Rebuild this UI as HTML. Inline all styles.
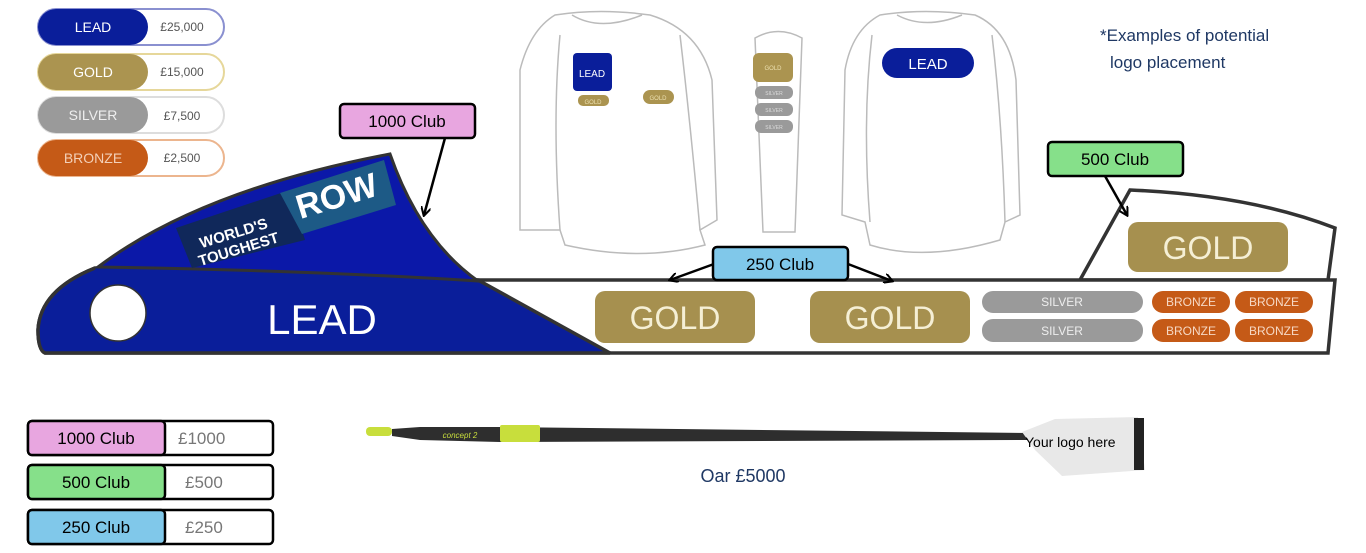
<!DOCTYPE html>
<html><head><meta charset="utf-8"><style>
html,body{margin:0;padding:0;background:#fff;}
svg{display:block;font-family:"Liberation Sans",sans-serif;}
</style></head><body>
<svg width="1366" height="553" viewBox="0 0 1366 553" xmlns="http://www.w3.org/2000/svg">
<defs>
<marker id="ah" markerWidth="10" markerHeight="10" refX="8" refY="5" orient="auto" markerUnits="userSpaceOnUse">
<path d="M0,0 L9,5 L0,10" fill="none" stroke="#000" stroke-width="2"/></marker>
</defs>
<!-- top-left legend -->
<g font-size="14">
<rect x="38" y="9" width="186" height="36" rx="18" fill="#fff" stroke="#8a90d0" stroke-width="2"/>
<rect x="38" y="9" width="110" height="36" rx="18" fill="#0a1e9a"/>
<text x="93" y="32" fill="#fff" text-anchor="middle">LEAD</text>
<text x="182" y="31" fill="#555" font-size="12" text-anchor="middle">£25,000</text>
<rect x="38" y="54" width="186" height="36" rx="18" fill="#fff" stroke="#e6d79a" stroke-width="2"/>
<rect x="38" y="54" width="110" height="36" rx="18" fill="#ab9450"/>
<text x="93" y="77" fill="#fff" text-anchor="middle">GOLD</text>
<text x="182" y="76" fill="#555" font-size="12" text-anchor="middle">£15,000</text>
<rect x="38" y="97" width="186" height="36" rx="18" fill="#fff" stroke="#ddd" stroke-width="2"/>
<rect x="38" y="97" width="110" height="36" rx="18" fill="#9a9a9a"/>
<text x="93" y="120" fill="#eee" text-anchor="middle">SILVER</text>
<text x="182" y="120" fill="#555" font-size="12" text-anchor="middle">£7,500</text>
<rect x="38" y="140" width="186" height="36" rx="18" fill="#fff" stroke="#ecb58e" stroke-width="2"/>
<rect x="38" y="140" width="110" height="36" rx="18" fill="#c55a17"/>
<text x="93" y="163" fill="#f3d0b8" text-anchor="middle">BRONZE</text>
<text x="182" y="162" fill="#555" font-size="12" text-anchor="middle">£2,500</text>
</g>
<!-- shirts -->
<g fill="#fff" stroke="#bbb" stroke-width="1.5">
<path d="M555,15 Q600,8 650,15 Q700,30 712,80 L717,220 L700,230 L705,245 Q640,262 565,245 L560,230 L520,230 L520,70 Q530,30 555,15 Z"/>
<path d="M572,15 Q600,32 642,15" fill="none"/>
<path d="M560,35 Q552,120 560,230" fill="none"/>
<path d="M680,35 Q690,120 700,230" fill="none"/>
<path d="M755,38 Q778,25 802,38 L795,232 L763,232 Z"/>
<path d="M880,15 Q925,8 975,15 Q1010,30 1016,80 L1020,215 L1005,222 L1000,240 Q925,262 870,245 L865,222 L842,215 L845,70 Q852,30 880,15 Z"/>
<path d="M897,15 Q925,30 962,15" fill="none"/>
<path d="M872,35 Q862,120 870,222" fill="none"/>
<path d="M992,35 Q1002,120 1005,222" fill="none"/>
</g>
<rect x="573" y="53" width="39" height="38" rx="4" fill="#0a1e9a"/>
<text x="592" y="77" fill="#fff" font-size="10" text-anchor="middle">LEAD</text>
<rect x="578" y="95" width="31" height="11" rx="5" fill="#ab9450"/>
<text x="593" y="104" fill="#ece0b0" font-size="6" text-anchor="middle">GOLD</text>
<rect x="643" y="90" width="31" height="14" rx="7" fill="#ab9450"/>
<text x="658" y="100" fill="#ece0b0" font-size="6" text-anchor="middle">GOLD</text>
<rect x="753" y="53" width="40" height="29" rx="6" fill="#ab9450"/>
<text x="773" y="70" fill="#ece0b0" font-size="6" text-anchor="middle">GOLD</text>
<g fill="#9a9a9a"><rect x="755" y="86" width="38" height="13" rx="6"/><rect x="755" y="103" width="38" height="13" rx="6"/><rect x="755" y="120" width="38" height="13" rx="6"/></g>
<g fill="#ddd" font-size="5" text-anchor="middle"><text x="774" y="95">SILVER</text><text x="774" y="112">SILVER</text><text x="774" y="129">SILVER</text></g>
<rect x="882" y="48" width="92" height="30" rx="15" fill="#0a1e9a"/>
<text x="928" y="69" fill="#fff" font-size="15" text-anchor="middle">LEAD</text>
<text x="1100" y="41" fill="#1f3864" font-size="17">*Examples of potential</text>
<text x="1110" y="68" fill="#1f3864" font-size="17">logo placement</text>
<!-- boat hull -->
<path d="M1080,280 L1130,190 Q1250,195 1335,228 L1328,280 Z" fill="#fff" stroke="#333" stroke-width="3.5"/>
<path d="M95,268 Q40,290 38,330 Q38,350 45,353 L1328,353 L1335,280 L480,280 Q300,270 95,268 Z" fill="#fff" stroke="#333" stroke-width="3.5"/>
<path d="M95,268 Q40,290 38,330 Q38,350 45,353 L610,353 L478,280 Q300,270 95,268 Z" fill="#0a1e9a"/>
<path d="M95,268 Q40,290 38,330 Q38,350 45,353 L610,353 L478,280" fill="none" stroke="#333" stroke-width="3.5"/>
<path d="M98,267 Q200,190 390,154 Q420,240 478,281 Q300,270 98,267 Z" fill="#0b18a8" stroke="#333" stroke-width="3"/>
<polygon points="176,228 290,190 305,240 192,268" fill="#10285a"/>
<polygon points="280,193 384,160 396,205 302,234" fill="#1d5a86"/>
<text x="235" y="238" fill="#fff" font-size="15" font-weight="bold" text-anchor="middle" transform="rotate(-17 235 238)">WORLD'S</text>
<text x="240" y="254" fill="#fff" font-size="15" font-weight="bold" text-anchor="middle" transform="rotate(-17 240 254)">TOUGHEST</text>
<text x="340" y="207" fill="#fff" font-size="34" font-weight="bold" text-anchor="middle" transform="rotate(-17 340 207)">ROW</text>
<circle cx="118" cy="313" r="28" fill="#fff" stroke="#333" stroke-width="1.5"/>
<text x="322" y="334" fill="#fff" font-size="42" text-anchor="middle">LEAD</text>
<!-- hull pills -->
<g fill="#a6904f"><rect x="595" y="291" width="160" height="52" rx="10"/><rect x="810" y="291" width="160" height="52" rx="10"/><rect x="1128" y="222" width="160" height="50" rx="10"/></g>
<g fill="#f5efd5" font-size="32" text-anchor="middle"><text x="675" y="329">GOLD</text><text x="890" y="329">GOLD</text><text x="1208" y="259">GOLD</text></g>
<g fill="#9a9a9a"><rect x="982" y="291" width="161" height="22" rx="11"/><rect x="982" y="319" width="161" height="23" rx="11"/></g>
<g fill="#eee" font-size="12" text-anchor="middle"><text x="1062" y="306">SILVER</text><text x="1062" y="335">SILVER</text></g>
<g fill="#c55a17"><rect x="1152" y="291" width="78" height="22" rx="11"/><rect x="1235" y="291" width="78" height="22" rx="11"/><rect x="1152" y="319" width="78" height="23" rx="11"/><rect x="1235" y="319" width="78" height="23" rx="11"/></g>
<g fill="#f6d8c4" font-size="12" text-anchor="middle"><text x="1191" y="306">BRONZE</text><text x="1274" y="306">BRONZE</text><text x="1191" y="335">BRONZE</text><text x="1274" y="335">BRONZE</text></g>
<!-- callouts -->
<g stroke="#000" stroke-width="2.5" marker-end="url(#ah)" fill="none">
<line x1="445" y1="138" x2="424" y2="215"/>
<line x1="1105" y1="176" x2="1127" y2="215"/>
<line x1="714" y1="264" x2="670" y2="280"/>
<line x1="848" y1="264" x2="892" y2="281"/>
</g>
<rect x="340" y="104" width="135" height="34" rx="4" fill="#e8a6e0" stroke="#000" stroke-width="2.5"/>
<text x="407" y="127" font-size="17" text-anchor="middle">1000 Club</text>
<rect x="1048" y="142" width="135" height="34" rx="4" fill="#86e08a" stroke="#000" stroke-width="2.5"/>
<text x="1115" y="165" font-size="17" text-anchor="middle">500 Club</text>
<rect x="713" y="247" width="135" height="33" rx="4" fill="#80c8ea" stroke="#000" stroke-width="2.5"/>
<text x="780" y="270" font-size="17" text-anchor="middle">250 Club</text>
<!-- bottom legend -->
<g stroke="#000" stroke-width="2.5">
<rect x="28" y="421" width="245" height="34" rx="4" fill="#fff"/><rect x="28" y="421" width="137" height="34" rx="4" fill="#e8a6e0"/>
<rect x="28" y="465" width="245" height="34" rx="4" fill="#fff"/><rect x="28" y="465" width="137" height="34" rx="4" fill="#86e08a"/>
<rect x="28" y="510" width="245" height="34" rx="4" fill="#fff"/><rect x="28" y="510" width="137" height="34" rx="4" fill="#80c8ea"/>
</g>
<g font-size="17" text-anchor="middle"><text x="96" y="444">1000 Club</text><text x="96" y="488">500 Club</text><text x="96" y="533">250 Club</text></g>
<g font-size="17" fill="#777"><text x="178" y="444">£1000</text><text x="185" y="488">£500</text><text x="185" y="533">£250</text></g>
<!-- oar -->
<rect x="366" y="427" width="26" height="9" rx="4" fill="#c8de3c"/>
<polygon points="392,429 420,427 500,427 1030,433 1030,440 500,442 420,440 392,436" fill="#2e2e2e"/>
<rect x="500" y="425" width="40" height="17" rx="2" fill="#c8de3c"/>
<text x="460" y="438" fill="#c8de3c" font-size="8" font-style="italic" text-anchor="middle">concept 2</text>
<polygon points="1022,432 1055,419 1138,417 1145,470 1062,476 1035,450" fill="#e8e8e8"/>
<rect x="1134" y="418" width="10" height="52" fill="#222"/>
<text x="1025" y="447" font-size="14">Your logo here</text>
<text x="743" y="482" fill="#1f3864" font-size="18" text-anchor="middle">Oar £5000</text>
</svg>
</body></html>
